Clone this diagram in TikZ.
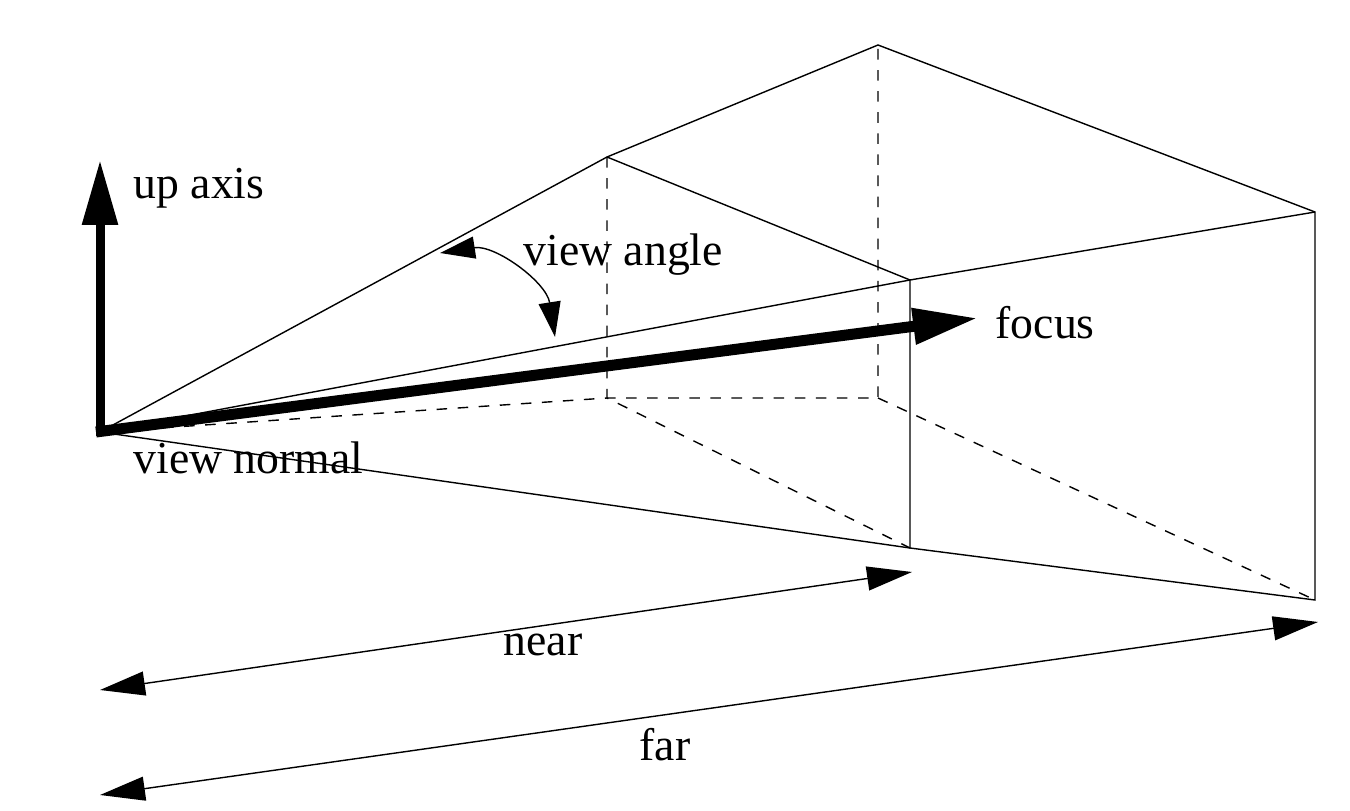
\documentclass[tikz,border=0pt]{standalone}
\usepackage{fontspec}
\setmainfont{Liberation Serif}
\usetikzlibrary{arrows.meta}
\begin{document}
\begin{tikzpicture}[x=0.1mm,y=-0.1mm,
edge/.style={thin},
hidden/.style={thin,dashed},
bigarrow/.style={line width=0.9mm,-{Triangle[length=6.5mm,width=3.4mm]}},
measure/.style={thin,{Triangle[length=4.5mm,width=2.4mm]}-{Triangle[length=4.5mm,width=2.4mm]}},
label/.style={font=\fontsize{13}{15}\selectfont,inner sep=0pt}]
\useasboundingbox (0,0) rectangle (1350,811);
% frustum corners
\coordinate (eye) at (100,432);
\coordinate (ntl) at (607,157);
\coordinate (ntr) at (910,280);
\coordinate (nbr) at (910,548);
\coordinate (nbl) at (607,398);
\coordinate (ftl) at (878,45);
\coordinate (ftr) at (1315,212);
\coordinate (fbr) at (1315,600);
\coordinate (fbl) at (878,398);
% visible edges
\draw[edge] (eye)--(ntl)--(ftl)--(ftr)--(fbr)--(nbr)--(eye);
\draw[edge] (eye)--(ntr)--(ftr);
\draw[edge] (ntl)--(ntr)--(nbr);
% hidden edges
\draw[hidden] (eye)--(nbl)--(fbl)--(ftl);
\draw[hidden] (ntl)--(nbl)--(nbr);
\draw[hidden] (fbl)--(fbr);
% axes
\coordinate (uptip) at (100,160);
\coordinate (focustip) at (978,318);
\draw[bigarrow] (100,436)--(uptip);
\draw[bigarrow,line width=1.1mm] (96,432)--(focustip);
% view angle
\coordinate (va1) at (440,253);
\coordinate (va2) at (555,337);
\draw[thin,{Triangle[length=3.5mm,width=2.2mm]}-{Triangle[length=3.5mm,width=2.2mm]}] (va1) to[bend left=45] (va2);
% measures
\coordinate (n1) at (100,690);
\coordinate (n2) at (912,572);
\coordinate (f1) at (100,795);
\coordinate (f2) at (1318,622);
\draw[measure] (n1)--(n2);
\draw[measure] (f1)--(f2);
% labels
\node[label,anchor=west] (uplabel) at (133,188) {up axis};
\node[label,anchor=west] (valabel) at (523,255) {view angle};
\node[label,anchor=west] (focuslabel) at (995,323) {focus};
\node[label,anchor=west] (vnlabel) at (133,458) {view normal};
\node[label] (nearlabel) at (543,645) {near};
\node[label] (farlabel) at (665,745) {far};
\end{tikzpicture}
\end{document}
